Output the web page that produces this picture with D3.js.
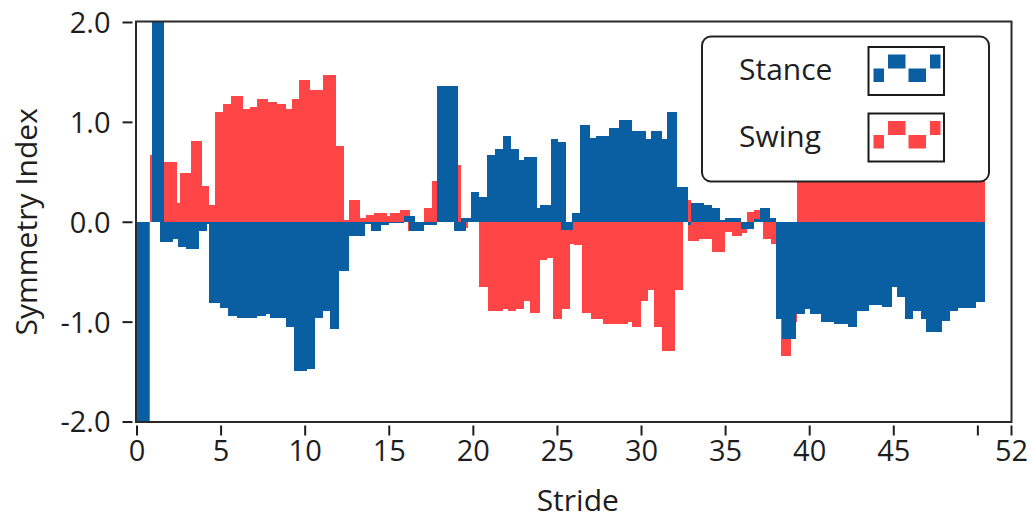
<!DOCTYPE html>
<html>
<head>
<meta charset="utf-8">
<script src="https://cdn.jsdelivr.net/npm/d3@7/dist/d3.min.js"></script>
<style>
  html, body { margin: 0; padding: 0; background: #fff; }
  svg { display: block; }
  text { font-family: "Open Sans", "Noto Sans", sans-serif; fill: #1e1e1e; }
</style>
</head>
<body>
<svg id="chart" width="1031" height="522"></svg>
<script>
// Symmetry index per stride, drawn as filled steps: [fromStride, toStride, value]
const stance = [
  [0, 0.72, -2.5], [0.91, 1.64, 2.5], [1.37, 2.16, -0.20], [2.16, 2.44, -0.175],
  [2.44, 2.93, -0.25], [2.93, 3.72, -0.275], [3.72, 4.18, -0.09], [4.18, 4.34, -0.02],
  [4.34, 4.97, -0.81], [4.97, 5.47, -0.86], [5.47, 5.96, -0.945], [5.96, 7.17, -0.965],
  [7.17, 7.70, -0.94], [7.70, 7.96, -0.92], [7.96, 8.89, -0.965], [8.89, 9.35, -1.05],
  [9.35, 10.14, -1.49], [10.14, 10.60, -1.475], [10.60, 11.09, -0.965], [11.09, 11.49, -0.89],
  [11.49, 12.04, -1.07], [12.04, 12.64, -0.49], [12.64, 13.61, -0.14], [13.61, 13.94, -0.02],
  [13.94, 14.54, -0.09], [14.54, 15.02, -0.035], [15.02, 15.88, -0.01], [15.88, 16.58, 0.055],
  [16.18, 17.07, -0.09], [17.07, 17.84, -0.03], [17.84, 19.11, 1.36], [18.85, 19.57, -0.09],
  [19.27, 19.88, 0.04], [19.88, 20.34, 0.30], [20.34, 20.84, 0.245], [20.84, 21.34, 0.67],
  [21.34, 21.81, 0.73], [21.81, 22.28, 0.86], [22.28, 22.72, 0.73], [22.72, 23.04, 0.62],
  [23.04, 23.81, 0.645], [23.81, 24.01, 0.14], [24.01, 24.62, 0.165], [24.62, 25.04, 0.83],
  [25.04, 25.55, 0.80], [25.25, 25.97, -0.085], [25.90, 26.38, 0.085], [26.38, 26.98, 0.965],
  [26.98, 27.31, 0.835], [27.31, 28.10, 0.86], [28.10, 28.67, 0.94], [28.67, 29.49, 1.02],
  [29.49, 30.28, 0.91], [30.28, 30.62, 0.83], [30.62, 31.22, 0.91], [31.22, 31.55, 0.83],
  [31.55, 32.14, 1.095], [32.14, 32.79, 0.35], [32.79, 33.00, -0.035], [32.97, 33.73, 0.19],
  [33.73, 34.22, 0.165], [34.22, 34.69, 0.135], [34.69, 35.00, 0.02], [35.00, 35.97, 0.04],
  [35.97, 36.72, -0.07], [36.72, 37.08, 0.03], [37.08, 37.68, 0.14], [37.68, 38.04, 0.04],
  [38.04, 38.38, -0.97], [38.38, 39.24, -1.175], [39.24, 39.74, -0.92], [39.74, 40.02, -0.87],
  [40.02, 40.69, -0.92], [40.69, 41.48, -1.0], [41.48, 42.29, -1.02], [42.29, 42.87, -1.05],
  [42.87, 43.55, -0.89], [43.55, 44.30, -0.83], [44.30, 44.94, -0.85], [44.94, 45.25, -0.65],
  [45.25, 45.68, -0.75], [45.68, 46.16, -0.97], [46.16, 46.65, -0.89], [46.65, 46.97, -0.97],
  [46.97, 47.88, -1.10], [47.88, 48.36, -0.995], [48.36, 48.83, -0.89], [48.83, 49.94, -0.86],
  [49.94, 50.44, -0.805]
];

const swing = [
  [0, 0.83, -2.5], [0.80, 1.30, 0.67], [1.30, 2.40, 0.60], [2.40, 2.59, 0.19],
  [2.59, 3.23, 0.49], [3.23, 3.88, 0.81], [3.88, 4.34, 0.36], [4.34, 4.65, 0.17],
  [4.65, 5.13, 1.10], [5.13, 5.61, 1.175], [5.61, 6.34, 1.26], [6.34, 6.73, 1.13],
  [6.73, 7.18, 1.15], [7.18, 7.82, 1.23], [7.82, 8.37, 1.20], [8.37, 8.88, 1.178],
  [8.88, 9.22, 1.128], [9.22, 9.69, 1.228], [9.69, 10.31, 1.415], [10.31, 11.08, 1.315],
  [11.08, 11.86, 1.465], [11.86, 12.32, 0.757], [12.32, 12.64, 0.02], [12.64, 13.28, 0.22],
  [13.28, 13.63, 0.04], [13.63, 14.10, 0.065], [14.10, 14.89, 0.09], [14.89, 15.05, 0.06],
  [15.05, 15.66, 0.09], [15.66, 16.26, 0.115], [16.14, 16.30, -0.095], [17.07, 17.55, 0.14],
  [17.55, 17.86, 0.405], [17.86, 19.11, 0.30], [19.09, 19.28, 0.57], [19.28, 19.70, -0.065],
  [20.35, 20.93, -0.65], [20.93, 21.80, -0.89], [21.80, 22.10, -0.875], [22.10, 22.54, -0.89],
  [22.54, 23.04, -0.87], [23.04, 23.38, -0.79], [23.38, 23.97, -0.915], [23.97, 24.43, -0.385],
  [24.43, 24.79, -0.36], [24.79, 25.28, -0.97], [25.28, 25.76, -0.87], [25.76, 26.03, -0.22],
  [26.03, 26.48, -0.235], [26.48, 27.02, -0.91], [27.02, 27.71, -0.97], [27.71, 29.20, -1.02],
  [29.20, 29.49, -1.0], [29.49, 29.99, -1.05], [29.99, 30.43, -0.79], [30.43, 30.78, -0.68],
  [30.78, 31.22, -1.05], [31.22, 32.00, -1.29], [32.00, 32.50, -0.68], [32.76, 32.95, 0.22],
  [32.82, 33.43, -0.19], [33.43, 34.22, -0.175], [34.22, 34.99, -0.30], [34.99, 35.39, -0.10],
  [35.39, 35.98, -0.14], [35.98, 36.30, -0.11], [36.30, 36.70, 0.10], [36.70, 37.05, 0.12],
  [37.25, 37.72, -0.175], [37.72, 38.05, -0.225], [38.05, 38.31, -0.90], [38.31, 38.92, -1.34],
  [38.92, 39.26, -1.0], [39.26, 50.44, 1.5]
];

const yTicks = [-2, -1, 0, 1, 2];
const xTicks = [0, 5, 10, 15, 20, 25, 30, 35, 40, 45, 50, 52];
const xTickHidden = [50];
const seriesNames = ["Stance", "Swing"];
const seriesColors = ["#0a5ea2", "#ff4545"];

const svg = d3.select("#chart");
const plot = { left: 136.5, right: 1011, top: 22, bottom: 421.5 };

const x = d3.scaleLinear().domain([0, 52]).range([plot.left, plot.right]);
const y = d3.scaleLinear().domain([-2, 2]).range([plot.bottom, plot.top]);

svg.append("defs").append("clipPath").attr("id", "plotClip")
  .append("rect")
  .attr("x", plot.left).attr("y", plot.top)
  .attr("width", plot.right - plot.left).attr("height", plot.bottom - plot.top);

const bars = svg.append("g").attr("clip-path", "url(#plotClip)");

function drawSeries(data, color) {
  bars.append("g").selectAll("rect").data(data).join("rect")
    .attr("x", d => x(d[0]))
    .attr("width", d => x(d[1]) - x(d[0]))
    .attr("y", d => Math.min(y(d[2]), y(0)))
    .attr("height", d => Math.abs(y(d[2]) - y(0)))
    .attr("fill", color)
    .attr("shape-rendering", "crispEdges");
}
// Swing underneath, Stance on top
drawSeries(swing, seriesColors[1]);
drawSeries(stance, seriesColors[0]);

// plot frame
svg.append("rect")
  .attr("x", plot.left - 0.5).attr("y", plot.top - 0.5)
  .attr("width", plot.right - plot.left + 1).attr("height", plot.bottom - plot.top + 1)
  .attr("fill", "none").attr("stroke", "#2a2a2a").attr("stroke-width", 2);

// y axis (plain hyphen for negative labels)
const fmt1 = d3.format(".1f");
const yAxis = svg.append("g")
  .attr("transform", `translate(${plot.left - 4},0)`)
  .call(d3.axisLeft(y).tickValues(yTicks).tickSize(10).tickPadding(12)
        .tickFormat(d => fmt1(d).replace("\u2212", "-")));
yAxis.select(".domain").remove();
yAxis.selectAll(".tick line").attr("stroke", "#1e1e1e").attr("stroke-width", 2);
yAxis.selectAll(".tick text").style("font-size", "29px").attr("dy", "0.36em");

// x axis
const xAxis = svg.append("g")
  .attr("transform", `translate(0,${plot.bottom + 4})`)
  .call(d3.axisBottom(x).tickValues(xTicks).tickSize(10).tickPadding(5)
        .tickFormat(d => xTickHidden.includes(d) ? "" : d));
xAxis.select(".domain").remove();
xAxis.selectAll(".tick line").attr("stroke", "#1e1e1e").attr("stroke-width", 2);
xAxis.selectAll(".tick text").style("font-size", "29px");

// axis titles
svg.append("text")
  .attr("x", (plot.left + plot.right) / 2 + 4).attr("y", 511)
  .attr("text-anchor", "middle").style("font-size", "30px")
  .text("Stride");
svg.append("text")
  .attr("transform", `translate(37,${(plot.top + plot.bottom) / 2}) rotate(-90)`)
  .attr("text-anchor", "middle").style("font-size", "30px")
  .text("Symmetry Index");

// legend
const legend = svg.append("g");
legend.append("rect")
  .attr("x", 702).attr("y", 36.5).attr("width", 287).attr("height", 145)
  .attr("rx", 9).attr("fill", "#fff").attr("stroke", "#222").attr("stroke-width", 2);

const iconBlocks = [ // small bar-plot glyph: [dx, dy, w, h]
  [5, 21.5, 10.5, 13.5], [19.5, 7.5, 17.5, 14], [40, 21.5, 17.5, 13.5], [61.5, 7.5, 10.5, 14]
];
seriesNames.forEach((name, i) => {
  const row = legend.append("g").attr("transform", `translate(0,${i * 66.5})`);
  row.append("text").attr("x", 739).attr("y", 80).style("font-size", "30px").text(name);
  const icon = row.append("g").attr("transform", "translate(868.5,47)");
  icon.append("rect").attr("width", 75.5).attr("height", 48)
    .attr("fill", "#fff").attr("stroke", "#1a1a1a").attr("stroke-width", 2);
  icon.selectAll("rect.blk").data(iconBlocks).join("rect").attr("class", "blk")
    .attr("x", d => d[0]).attr("y", d => d[1]).attr("width", d => d[2]).attr("height", d => d[3])
    .attr("fill", seriesColors[i]);
});
</script>
</body>
</html>
